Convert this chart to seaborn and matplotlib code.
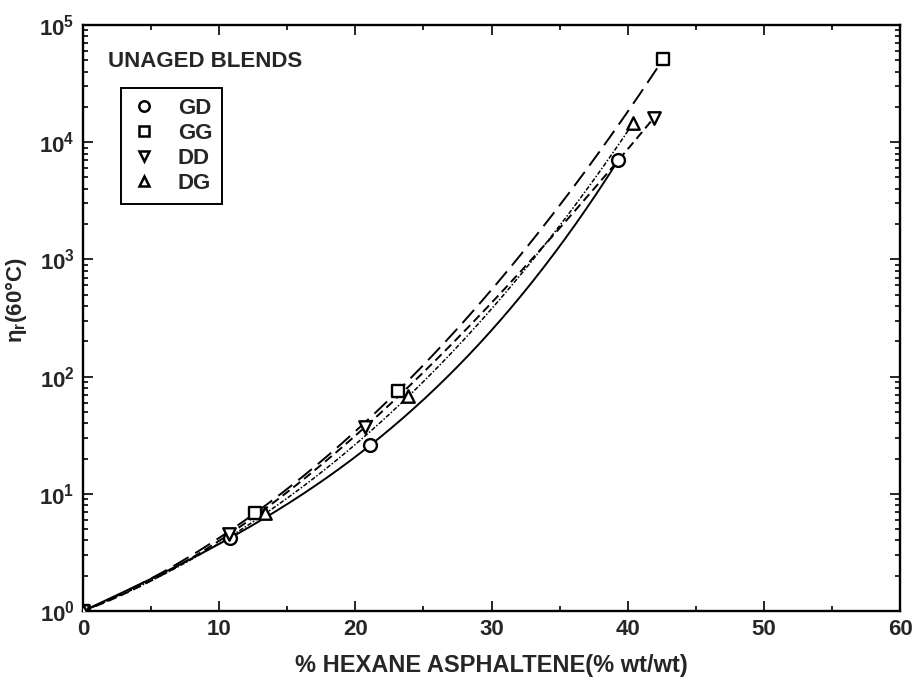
import numpy as np
import pandas as pd
import matplotlib
matplotlib.use("Agg")
import matplotlib.pyplot as plt
import seaborn as sns
from matplotlib.lines import Line2D
from matplotlib.ticker import MultipleLocator, LogLocator, NullFormatter

gd_x = [0.0, 10.8, 21.1, 39.3]
gd_y = [1.0, 4.2, 26.0, 7000.0]

gg_x = [0.0, 12.6, 23.1, 42.6]
gg_y = [1.0, 6.8, 75.0, 51000.0]

dd_x = [0.0, 10.7, 20.7, 41.9]
dd_y = [1.0, 4.5, 37.0, 16000.0]

dg_x = [0.0, 13.4, 23.9, 40.4]
dg_y = [1.0, 6.8, 68.0, 14500.0]

series_names = ["GD", "GG", "DD", "DG"]
x_ticks = [0, 10, 20, 30, 40, 50, 60]
y_ticks = [1, 10, 100, 1000, 10000, 100000]
y_tick_labels = [r"$\mathbf{10^{%d}}$" % i for i in range(6)]

sns.set_style("ticks")
plt.rcParams["font.family"] = ["Liberation Sans", "DejaVu Sans"]
plt.rcParams["font.weight"] = "bold"
plt.rcParams["mathtext.fontset"] = "custom"
plt.rcParams["mathtext.rm"] = "Liberation Sans:bold"
plt.rcParams["mathtext.bf"] = "Liberation Sans:bold"
plt.rcParams["mathtext.it"] = "Liberation Sans:bold"

fig = plt.figure(figsize=(9.14, 6.85), dpi=100)
ax = fig.add_axes([0.0908, 0.108, 0.8939, 0.8555])

data = {
    "GD": (gd_x, gd_y, "o", "-", (None,), 1.4, 85),
    "GG": (gg_x, gg_y, "s", "--", (9, 4), 1.4, 70),
    "DD": (dd_x, dd_y, "v", "--", (4.5, 2.5), 1.4, 80),
    "DG": (dg_x, dg_y, "^", ":", (3, 1.2, 1, 1.2), 1.1, 80),
}

for name in series_names:
    xs, ys, mk, ls, dash, lw, ms = data[name]
    # smooth fitted curve through the points (cubic in log space)
    coef = np.polyfit(xs, np.log10(ys), 3)
    xg = np.linspace(0, max(xs), 200)
    curve = pd.DataFrame({"x": xg, "y": 10 ** np.polyval(coef, xg)})
    sns.lineplot(data=curve, x="x", y="y", color="black",
                 linewidth=lw, ax=ax, zorder=2)
    ln = ax.lines[-1]
    if ls != "-":
        ln.set_dashes(dash)
    pts = pd.DataFrame({"x": xs, "y": ys})
    sns.scatterplot(data=pts, x="x", y="y", marker=mk, s=ms,
                    color="white", edgecolor="black", linewidth=1.7,
                    ax=ax, zorder=3)

ax.set_yscale("log")
ax.set_xlim(0, 60)
ax.set_ylim(1, 1e5)
ax.set_xticks(x_ticks)
ax.set_xticklabels([str(t) for t in x_ticks], fontsize=16, fontweight="bold")
ax.xaxis.set_minor_locator(MultipleLocator(5))
ax.set_yticks(y_ticks)
ax.set_yticklabels(y_tick_labels, fontsize=16)
ax.yaxis.set_minor_locator(LogLocator(base=10, subs=np.arange(2, 10), numticks=20))
ax.yaxis.set_minor_formatter(NullFormatter())

ax.tick_params(which="both", direction="in", top=True, right=True, width=1.4)
ax.tick_params(which="major", length=7, pad=6)
ax.tick_params(which="minor", length=3.5)
for sp in ax.spines.values():
    sp.set_linewidth(1.7)
    sp.set_color("black")

ax.set_xlabel("% HEXANE ASPHALTENE(% wt/wt)", fontsize=17, fontweight="bold",
              labelpad=10)
ax.set_ylabel(r"η$_\mathbf{r}$(60°C)", fontsize=16, fontweight="bold",
              labelpad=8)
ax.yaxis.set_label_coords(-0.066, 0.53)

ax.text(0.03, 0.955, "UNAGED BLENDS", transform=ax.transAxes, fontsize=16,
        fontweight="bold", va="top", ha="left")

handles = [Line2D([], [], linestyle="none", marker=data[n][2], markersize=7.5,
                  markerfacecolor="white", markeredgecolor="black",
                  markeredgewidth=1.8) for n in series_names]
leg = ax.legend(handles, series_names, loc="upper left",
                bbox_to_anchor=(0.0465, 0.8925), borderaxespad=0,
                frameon=True, fancybox=False,
                edgecolor="black", framealpha=1, handletextpad=0.9,
                handlelength=1.2, borderpad=0.45, labelspacing=0.18,
                prop={"weight": "bold", "size": 16})
leg.get_frame().set_linewidth(1.4)

fig.savefig("out.png", dpi=100)
